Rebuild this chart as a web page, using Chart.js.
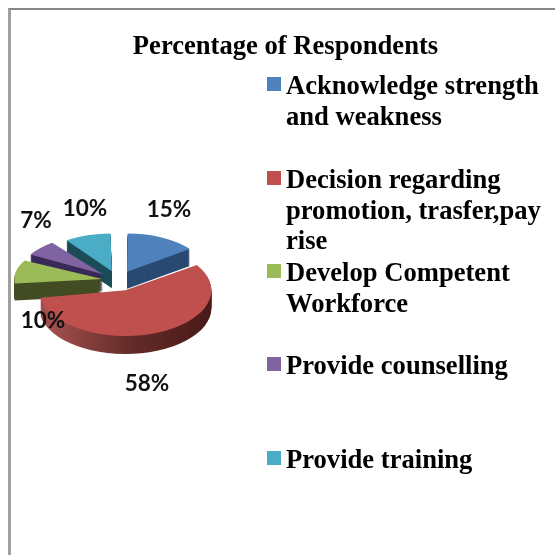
<!DOCTYPE html>
<html>
<head>
<meta charset="utf-8">
<style>
html,body{margin:0;padding:0;width:555px;height:555px;overflow:hidden;background:#fff}
#frame{position:absolute;left:8px;top:8px;width:600px;height:600px;border-top:2px solid #868686;border-left:3px solid #a0a0a0}
canvas{position:absolute;left:0;top:0}
</style>
<script src="https://cdn.jsdelivr.net/npm/chart.js@4"></script>
</head>
<body>
<div id="frame"></div>
<canvas id="c" width="555" height="555"></canvas>
<script>
const chartTitle = "Percentage of Respondents";
const categories = [
  ["Acknowledge strength", "and weakness"],
  ["Decision regarding", "promotion, trasfer,pay", "rise"],
  ["Develop Competent", "Workforce"],
  ["Provide counselling"],
  ["Provide training"]
];
const percentages = [15, 58, 10, 7, 10];
const topColors = ["#4f81bd", "#c0504d", "#9bbb59", "#8064a2", "#4bacc6"];
const sideColors = ["#2a4a72", null, "#434d24", "#3b2a58", "#1c4c58"];

const pieRadius = 75;
const squash = [0.49, 0.53, 0.45, 0.47, 0.48];
const sliceOffsets = [80, 80, 64, 80, 80];
const drawOrder = [0, 4, 3, 2, 1];
const sliceRadius = [78, 86, 88, 84, 79];
const depths = [17, 18, 17, 17, 17];
const labelAt = [[169, 210], [147, 384], [43, 321], [36, 221], [85, 209]];
const legendTops = [77, 171, 264, 357, 451];

const pie3d = {
  id: "pie3d",
  afterLayout(chart) {
    chart.titleBlock.left = 16;
    chart.titleBlock.right = 555;
  },
  beforeDatasetDraw(chart, args) {
    const ctx = chart.ctx, arcs = args.meta.data;
    const cx = arcs[0].x, cy = arcs[0].y;
    const red = ctx.createLinearGradient(45, 0, 215, 0);
    red.addColorStop(0, "#a24f4c");
    red.addColorStop(0.45, "#642c2a");
    red.addColorStop(1, "#451715");
    drawOrder.forEach(i => {
      const arc = arcs[i], base = arc.options, R = arc.outerRadius;
      // ArcElement widens an offset slice by offset/4 * (1 - sin(sweep)); cancel that
      const widen = (sliceOffsets[i] / 4) * (1 - Math.sin(Math.min(Math.PI, arc.circumference)));
      arc.outerRadius = sliceRadius[i] - widen;
      for (let d = depths[i]; d >= 0; d--) {
        ctx.save();
        ctx.translate(cx, cy + d);
        ctx.scale(1, squash[i]);
        ctx.translate(-cx, -cy);
        const fill = d === 0 ? topColors[i] : (sideColors[i] || red);
        arc.options = Object.assign(Object.create(base), {backgroundColor: fill});
        arc.draw(ctx);
        ctx.restore();
      }
      arc.options = base;
      arc.outerRadius = R;
    });
    return false;
  },
  afterDraw(chart) {
    const ctx = chart.ctx;
    ctx.save();
    ctx.textAlign = "center";
    ctx.textBaseline = "middle";
    ctx.fillStyle = "#111";
    ctx.font = 'bold 22.5px Lato';
    percentages.forEach((v, i) => ctx.fillText(v + "%", labelAt[i][0], labelAt[i][1]));
    ctx.textAlign = "left";
    ctx.textBaseline = "alphabetic";
    ctx.font = 'bold 26.6px "Liberation Serif"';
    categories.forEach((lines, i) => {
      const top = legendTops[i];
      ctx.fillStyle = topColors[i];
      ctx.fillRect(267, top, 14, 14);
      ctx.fillStyle = "#000";
      lines.forEach((t, j) => ctx.fillText(t, 286, top + 17 + Math.round(j * 30.5)));
    });
    ctx.restore();
  }
};

new Chart(document.getElementById("c"), {
  type: "pie",
  data: {
    labels: categories,
    datasets: [{
      data: percentages,
      backgroundColor: topColors,
      borderWidth: 0,
      offset: sliceOffsets
    }]
  },
  plugins: [pie3d],
  options: {
    responsive: false,
    animation: false,
    radius: pieRadius,
    events: [],
    layout: {padding: {left: 18, right: 337, top: 0, bottom: 57}},
    plugins: {
      legend: {display: false},
      tooltip: {enabled: false},
      title: {
        display: true,
        text: chartTitle,
        color: "#000",
        font: {family: "Liberation Serif", size: 26.6, weight: "bold"},
        padding: {top: 31, bottom: 0}
      }
    }
  }
});
</script>
</body>
</html>
